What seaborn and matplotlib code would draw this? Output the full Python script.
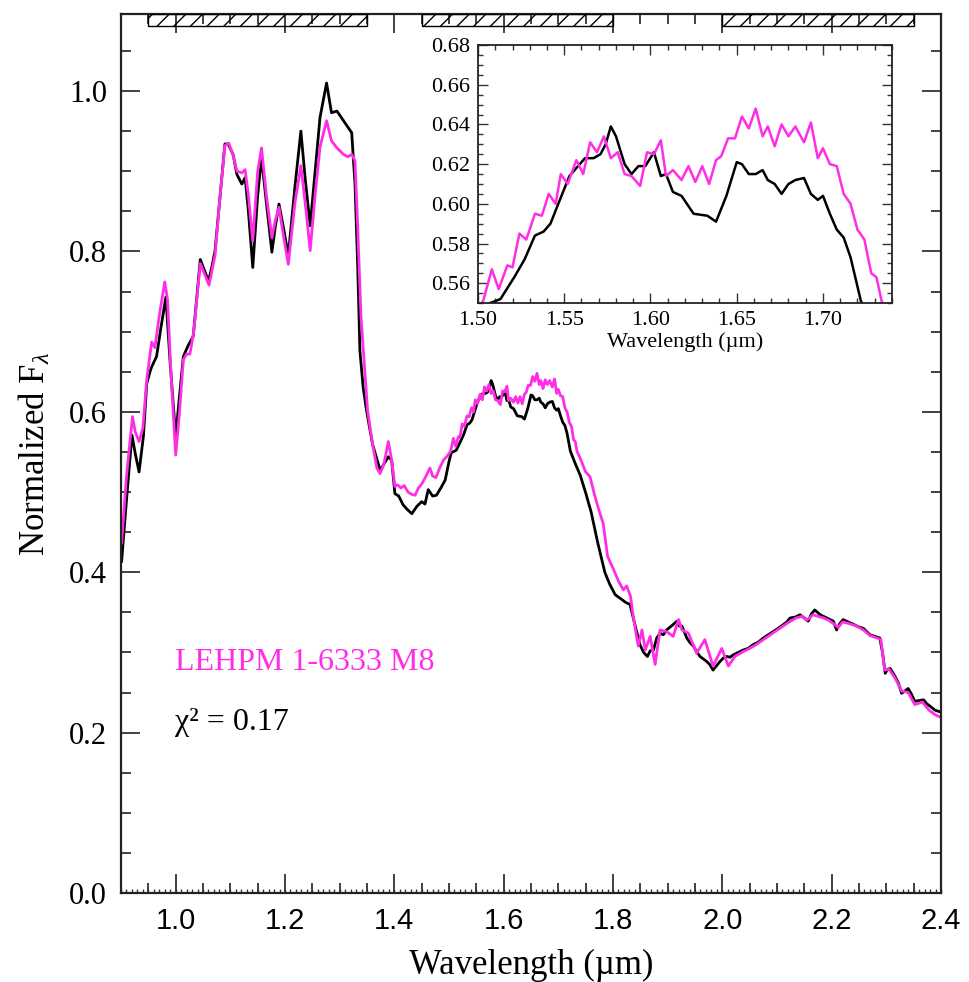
import numpy as np
import pandas as pd
import matplotlib
matplotlib.use("Agg")
import matplotlib.pyplot as plt
import seaborn as sns

# ---- spectra: observed object (black) and best-fit template (magenta) ----
obj_wave = [
    0.901, 0.910, 0.920, 0.926, 0.933, 0.941, 0.947, 0.953, 0.956, 0.965, 0.973, 0.982,
    0.990, 1.000, 1.007, 1.014, 1.023, 1.032, 1.045, 1.060, 1.066, 1.072, 1.080, 1.090,
    1.096, 1.105, 1.112, 1.121, 1.127, 1.133, 1.141, 1.150, 1.157, 1.166, 1.176, 1.182,
    1.189, 1.197, 1.206, 1.218, 1.229, 1.237, 1.246, 1.255, 1.264, 1.276, 1.285, 1.295,
    1.307, 1.322, 1.328, 1.333, 1.337, 1.343, 1.349, 1.360, 1.374, 1.389, 1.395, 1.401,
    1.408, 1.416, 1.424, 1.432, 1.441, 1.450, 1.456, 1.462, 1.470, 1.477, 1.485, 1.493,
    1.500, 1.504, 1.513, 1.521, 1.527, 1.533, 1.538, 1.542, 1.547, 1.553, 1.559, 1.562,
    1.567, 1.571, 1.574, 1.577, 1.580, 1.585, 1.589, 1.593, 1.597, 1.602, 1.606, 1.609,
    1.613, 1.618, 1.625, 1.633, 1.638, 1.644, 1.650, 1.653, 1.657, 1.661, 1.665, 1.668,
    1.672, 1.676, 1.680, 1.684, 1.689, 1.693, 1.697, 1.700, 1.704, 1.708, 1.712, 1.716,
    1.722, 1.730, 1.740, 1.750, 1.760, 1.772, 1.785, 1.794, 1.804, 1.816, 1.824, 1.831,
    1.840, 1.849, 1.856, 1.863, 1.868, 1.874, 1.880, 1.886, 1.892, 1.898, 1.907, 1.912,
    1.917, 1.921, 1.926, 1.935, 1.941, 1.947, 1.953, 1.959, 1.965, 1.971, 1.977, 1.983,
    1.990, 1.996, 2.002, 2.008, 2.014, 2.020, 2.029, 2.038, 2.047, 2.057, 2.066, 2.075,
    2.084, 2.093, 2.102, 2.112, 2.118, 2.124, 2.133, 2.142, 2.150, 2.157, 2.163, 2.169,
    2.174, 2.179, 2.185, 2.191, 2.197, 2.203, 2.209, 2.215, 2.221, 2.230, 2.240, 2.249,
    2.258, 2.264, 2.270, 2.279, 2.288, 2.293, 2.298, 2.302, 2.307, 2.316, 2.322, 2.328,
    2.334, 2.340, 2.346, 2.352, 2.360, 2.368, 2.374, 2.380, 2.389, 2.398,
]
obj_flux = [
    0.413, 0.490, 0.571, 0.548, 0.525, 0.570, 0.635, 0.650, 0.656, 0.669, 0.705, 0.743,
    0.660, 0.569, 0.620, 0.669, 0.683, 0.694, 0.790, 0.763, 0.780, 0.801, 0.860, 0.934,
    0.934, 0.921, 0.896, 0.884, 0.892, 0.850, 0.780, 0.870, 0.917, 0.860, 0.799, 0.830,
    0.859, 0.830, 0.795, 0.880, 0.950, 0.890, 0.832, 0.900, 0.967, 1.010, 0.973, 0.975,
    0.963, 0.948, 0.884, 0.780, 0.676, 0.630, 0.602, 0.560, 0.527, 0.544, 0.540, 0.498,
    0.495, 0.484, 0.478, 0.473, 0.482, 0.488, 0.485, 0.503, 0.495, 0.496, 0.505, 0.515,
    0.538, 0.549, 0.552, 0.563, 0.572, 0.584, 0.586, 0.590, 0.601, 0.614, 0.620, 0.623,
    0.623, 0.625, 0.630, 0.639, 0.634, 0.620, 0.615, 0.619, 0.619, 0.626, 0.614, 0.615,
    0.606, 0.604, 0.595, 0.594, 0.591, 0.604, 0.621, 0.620, 0.615, 0.615, 0.617, 0.612,
    0.610, 0.605, 0.610, 0.612, 0.613, 0.605, 0.602, 0.604, 0.595, 0.587, 0.583, 0.573,
    0.551, 0.537, 0.521, 0.499, 0.475, 0.437, 0.400, 0.385, 0.372, 0.366, 0.362, 0.360,
    0.335, 0.310, 0.300, 0.295, 0.302, 0.303, 0.318, 0.324, 0.322, 0.328, 0.333, 0.336,
    0.339, 0.333, 0.333, 0.318, 0.312, 0.308, 0.301, 0.295, 0.292, 0.289, 0.285, 0.278,
    0.284, 0.289, 0.293, 0.295, 0.294, 0.297, 0.300, 0.303, 0.305, 0.310, 0.313, 0.318,
    0.322, 0.326, 0.330, 0.335, 0.338, 0.343, 0.344, 0.347, 0.343, 0.339, 0.348, 0.353,
    0.350, 0.347, 0.345, 0.343, 0.341, 0.339, 0.328, 0.336, 0.341, 0.338, 0.335, 0.332,
    0.330, 0.326, 0.322, 0.320, 0.318, 0.300, 0.274, 0.279, 0.280, 0.270, 0.262, 0.249,
    0.252, 0.255, 0.248, 0.239, 0.240, 0.241, 0.236, 0.233, 0.228, 0.226,
]

tpl_wave = [
    0.901, 0.910, 0.921, 0.926, 0.933, 0.940, 0.947, 0.956, 0.962, 0.970, 0.980, 0.985,
    0.992, 1.000, 1.007, 1.014, 1.020, 1.026, 1.033, 1.045, 1.061, 1.072, 1.080, 1.090,
    1.097, 1.105, 1.112, 1.121, 1.127, 1.133, 1.141, 1.150, 1.157, 1.166, 1.176, 1.182,
    1.189, 1.197, 1.206, 1.218, 1.229, 1.237, 1.246, 1.255, 1.264, 1.276, 1.285, 1.295,
    1.307, 1.315, 1.322, 1.328, 1.333, 1.339, 1.345, 1.351, 1.360, 1.368, 1.374, 1.381,
    1.389, 1.395, 1.401, 1.406, 1.412, 1.418, 1.425, 1.432, 1.438, 1.444, 1.450, 1.458,
    1.465, 1.470, 1.476, 1.483, 1.490, 1.497, 1.503, 1.508, 1.512, 1.517, 1.520, 1.524,
    1.528, 1.533, 1.537, 1.541, 1.545, 1.548, 1.552, 1.557, 1.561, 1.565, 1.569, 1.573,
    1.577, 1.581, 1.585, 1.589, 1.594, 1.598, 1.602, 1.606, 1.609, 1.613, 1.618, 1.622,
    1.626, 1.630, 1.634, 1.638, 1.641, 1.645, 1.649, 1.653, 1.657, 1.661, 1.665, 1.668,
    1.672, 1.676, 1.680, 1.684, 1.689, 1.693, 1.697, 1.700, 1.704, 1.708, 1.712, 1.716,
    1.720, 1.724, 1.728, 1.731, 1.734, 1.740, 1.750, 1.758, 1.766, 1.774, 1.782, 1.790,
    1.800, 1.810, 1.819, 1.825, 1.832, 1.837, 1.846, 1.853, 1.859, 1.868, 1.877, 1.886,
    1.898, 1.910, 1.920, 1.926, 1.938, 1.953, 1.968, 1.983, 1.999, 2.011, 2.023, 2.038,
    2.050, 2.060, 2.075, 2.090, 2.105, 2.120, 2.135, 2.146, 2.154, 2.166, 2.175, 2.185,
    2.195, 2.205, 2.212, 2.220, 2.232, 2.245, 2.258, 2.270, 2.283, 2.290, 2.297, 2.305,
    2.316, 2.328, 2.340, 2.352, 2.366, 2.378, 2.390, 2.400,
]
tpl_flux = [
    0.436, 0.520, 0.594, 0.575, 0.563, 0.580, 0.640, 0.687, 0.680, 0.720, 0.762, 0.740,
    0.640, 0.546, 0.600, 0.665, 0.672, 0.672, 0.700, 0.785, 0.758, 0.795, 0.860, 0.932,
    0.935, 0.920, 0.900, 0.898, 0.902, 0.870, 0.813, 0.900, 0.929, 0.870, 0.817, 0.838,
    0.855, 0.820, 0.784, 0.860, 0.907, 0.860, 0.801, 0.870, 0.930, 0.963, 0.938, 0.929,
    0.921, 0.918, 0.921, 0.913, 0.830, 0.718, 0.660, 0.602, 0.560, 0.530, 0.523, 0.535,
    0.563, 0.540, 0.507, 0.509, 0.505, 0.508, 0.500, 0.497, 0.496, 0.505, 0.510, 0.520,
    0.530, 0.520, 0.518, 0.530, 0.540, 0.545, 0.551, 0.567, 0.557, 0.569, 0.568, 0.585,
    0.582, 0.595, 0.594, 0.605, 0.600, 0.615, 0.610, 0.622, 0.615, 0.631, 0.626, 0.634,
    0.623, 0.626, 0.615, 0.614, 0.609, 0.626, 0.625, 0.632, 0.614, 0.617, 0.612, 0.619,
    0.611, 0.619, 0.610, 0.622, 0.624, 0.633, 0.633, 0.644, 0.638, 0.648, 0.634, 0.639,
    0.629, 0.640, 0.634, 0.639, 0.631, 0.641, 0.623, 0.628, 0.620, 0.619, 0.605, 0.600,
    0.587, 0.582, 0.565, 0.563, 0.551, 0.542, 0.525, 0.519, 0.497, 0.478, 0.461, 0.420,
    0.405, 0.389, 0.378, 0.383, 0.370, 0.345, 0.308, 0.328, 0.303, 0.320, 0.285, 0.328,
    0.326, 0.320, 0.341, 0.328, 0.324, 0.299, 0.316, 0.283, 0.305, 0.283, 0.295, 0.301,
    0.305, 0.309, 0.316, 0.323, 0.330, 0.337, 0.343, 0.345, 0.340, 0.347, 0.345, 0.343,
    0.340, 0.335, 0.331, 0.338, 0.336, 0.333, 0.328, 0.321, 0.318, 0.316, 0.278, 0.279,
    0.268, 0.252, 0.250, 0.235, 0.238, 0.228, 0.222, 0.219,
]

# photometric band windows shown as hatched boxes along the top
band_lo = [0.95, 1.45, 2.00]
band_hi = [1.35, 1.80, 2.35]

template_name = "LEHPM 1-6333 M8"
chi2_text = "\u03c7\u00b2 = 0.17"

MAGENTA = "#ff2ee6"
SERIF = "Liberation Serif"
SANS = "Liberation Sans"

sns.set_theme(style="ticks")
plt.rcParams.update({
    "font.family": [SERIF, "DejaVu Serif"],
    "mathtext.fontset": "custom",
    "mathtext.rm": SERIF,
    "mathtext.it": SERIF + ":italic",
    "axes.linewidth": 1.6,
    "axes.edgecolor": "#222222",
    "hatch.linewidth": 1.0,
    "text.color": "black",
    "axes.labelcolor": "black",
    "xtick.color": "black",
    "ytick.color": "black",
    "xtick.labelcolor": "black",
    "ytick.labelcolor": "black",
})

obj = pd.DataFrame({"wave": obj_wave, "flux": obj_flux})
tpl = pd.DataFrame({"wave": tpl_wave, "flux": tpl_flux})

fig = plt.figure(figsize=(9.69, 9.82), dpi=100)
ax = fig.add_axes([0.1249, 0.0906, 0.8462, 0.8951])

sns.lineplot(data=obj, x="wave", y="flux", ax=ax, color="black", lw=2.0,
             sort=False, estimator=None)
sns.lineplot(data=tpl, x="wave", y="flux", ax=ax, color=MAGENTA, lw=2.0,
             sort=False, estimator=None)

ax.set_xlim(0.9, 2.4)
ax.set_ylim(0.0, 1.096)

# hatched band boxes hanging from the top frame
bar_bottom = 1.081
ax.bar(band_lo, [1.096 - bar_bottom] * len(band_lo),
       width=[h - l for l, h in zip(band_lo, band_hi)], bottom=bar_bottom,
       align="edge", fill=False, hatch="//", edgecolor="black", lw=1.0, zorder=5)

ax.set_xticks(np.arange(1.0, 2.41, 0.2))
ax.set_xticks(np.arange(0.9, 2.401, 0.05), minor=True)
ax.set_yticks(np.arange(0.0, 1.01, 0.2))
ax.set_yticks(np.arange(0.0, 1.09, 0.05), minor=True)
ax.set_xticklabels([f"{v:.1f}" for v in np.arange(1.0, 2.41, 0.2)],
                   fontfamily=SANS, fontsize=21)
ax.set_yticklabels([f"{v:.1f}" for v in np.arange(0.0, 1.01, 0.2)],
                   fontfamily=SERIF, fontsize=22)
ax.tick_params(which="both", direction="in", top=True, right=True,
               color="#333333", width=1.3)
ax.tick_params(which="major", length=14, pad=10)
ax.tick_params(which="minor", length=7)

# fine 0.01 micron ticks along the bottom axis
fine = ax.secondary_xaxis("bottom")
fine.set_xticks(np.arange(0.9, 2.401, 0.01))
fine.tick_params(direction="in", length=3, width=1.0, labelbottom=False,
                 color="#333333")
fine.spines["bottom"].set_visible(False)

ax.set_xlabel("Wavelength (\u00b5m)", fontsize=25, labelpad=10)
ax.set_ylabel("Normalized F$_{\\lambda}$", fontsize=25, labelpad=12)

ax.text(0.998, 0.288, template_name, color=MAGENTA, fontsize=23,
        fontfamily=SERIF, ha="left", va="center")
ax.text(0.998, 0.213, chi2_text, color="black", fontsize=23,
        fontfamily=SERIF, ha="left", va="center")

# zoom on the H-band peak
ins = fig.add_axes([0.4933, 0.6914, 0.4272, 0.2627])
sns.lineplot(data=obj, x="wave", y="flux", ax=ins, color="black", lw=1.8,
             sort=False, estimator=None)
sns.lineplot(data=tpl, x="wave", y="flux", ax=ins, color=MAGENTA, lw=1.8,
             sort=False, estimator=None)
ins.set_xlim(1.50, 1.74)
ins.set_ylim(0.55, 0.68)
ins.set_xticks(np.arange(1.50, 1.701, 0.05))
ins.set_xticks(np.arange(1.50, 1.741, 0.01), minor=True)
ins.set_yticks(np.arange(0.56, 0.681, 0.02))
ins.set_yticks(np.arange(0.55, 0.681, 0.005), minor=True)
ins.set_xticklabels([f"{v:.2f}" for v in np.arange(1.50, 1.701, 0.05)], fontsize=16)
ins.set_yticklabels([f"{v:.2f}" for v in np.arange(0.56, 0.681, 0.02)], fontsize=16)
ins.tick_params(which="both", direction="in", top=True, right=True,
                color="#333333", width=1.0)
ins.tick_params(which="major", length=7, pad=6)
ins.tick_params(which="minor", length=3.5)
ins.set_xlabel("Wavelength (\u00b5m)", fontsize=16, labelpad=1)
ins.set_ylabel("")
for s in ins.spines.values():
    s.set_linewidth(1.3)

fig.savefig("out.png", dpi=100, facecolor="white")
